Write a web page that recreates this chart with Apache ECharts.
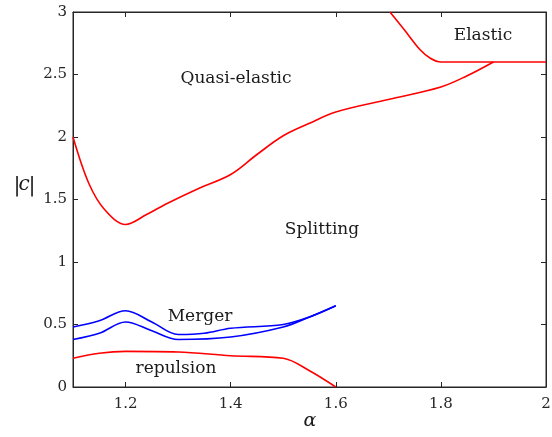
<!DOCTYPE html>
<html>
<head>
<meta charset="utf-8">
<script src="https://cdn.jsdelivr.net/npm/echarts@6/dist/echarts.min.js"></script>
<style>
  html, body { margin: 0; padding: 0; background: #fff; }
  #chart { width: 552px; height: 437px; }
</style>
</head>
<body>
<div id="chart"></div>
<script>
// boundary between quasi-elastic and splitting
const alphaQuasi = [1.1, 1.13, 1.16, 1.2, 1.24, 1.28, 1.34, 1.4, 1.45, 1.5, 1.55, 1.6, 1.7, 1.8, 1.85, 1.9];
const cQuasi     = [2.0, 1.63, 1.42, 1.30, 1.38, 1.47, 1.59, 1.70, 1.86, 2.01, 2.11, 2.20, 2.30, 2.40, 2.49, 2.60];
// elastic region boundary
const alphaElastic = [1.703, 1.73, 1.76, 1.78, 1.8, 1.9, 2.0];
const cElastic     = [3.0, 2.86, 2.70, 2.63, 2.6, 2.6, 2.6];
// merger band
const alphaMergerTop = [1.1, 1.15, 1.2, 1.25, 1.3, 1.35, 1.4, 1.5, 1.55, 1.6];
const cMergerTop     = [0.48, 0.53, 0.61, 0.52, 0.42, 0.43, 0.47, 0.50, 0.56, 0.65];
const alphaMergerBot = [1.1, 1.15, 1.2, 1.25, 1.3, 1.4, 1.5, 1.55, 1.6];
const cMergerBot     = [0.38, 0.43, 0.52, 0.45, 0.38, 0.40, 0.48, 0.56, 0.65];
// repulsion boundary
const alphaRepul = [1.1, 1.15, 1.2, 1.3, 1.4, 1.5, 1.55, 1.6];
const cRepul     = [0.23, 0.27, 0.285, 0.28, 0.25, 0.23, 0.13, 0.0];

const xTicks = [1.2, 1.4, 1.6, 1.8, 2];

const FONT = '"DejaVu Serif"';
const AX = '#262626';

function pts (xs, ys) {
  return xs.map((x, i) => [x, ys[i]]);
}

function line (name, xs, ys, color) {
  return {
    name: name,
    type: 'line',
    xAxisIndex: 0,
    yAxisIndex: 0,
    data: pts(xs, ys),
    smooth: 0.35,
    showSymbol: false,
    lineStyle: { color: color, width: 1.6 },
    silent: true
  };
}

function label (text, x, y, size, italic) {
  return {
    type: 'text', x: x, y: y, z: 10,
    style: {
      text: text,
      font: (italic ? 'italic ' : '') + size + 'px ' + FONT,
      fill: '#1a1a1a',
      align: 'center',
      verticalAlign: 'middle'
    }
  };
}

const chart = echarts.init(document.getElementById('chart'));

const tickStyle = { show: true, inside: true, length: 5, lineStyle: { color: AX } };
const lineStyle = { show: true, onZero: false, lineStyle: { color: AX, width: 1 } };

chart.setOption({
  animation: false,
  backgroundColor: '#fff',
  grid: { left: 73, right: 6, top: 12, bottom: 50, containLabel: false, outerBoundsMode: 'none',
    show: true, borderColor: AX, borderWidth: 1 },
  xAxis: [
    {
      type: 'value', min: 1.1, max: 2, position: 'bottom',
      splitLine: { show: false },
      axisLine: lineStyle,
      axisTick: Object.assign({ customValues: xTicks }, tickStyle),
      axisLabel: { customValues: xTicks, fontFamily: 'DejaVu Serif', fontSize: 15, color: AX, margin: 10,
        formatter: v => String(v) }
    },
    {
      type: 'value', min: 1.1, max: 2, position: 'top',
      splitLine: { show: false },
      axisLine: lineStyle,
      axisTick: Object.assign({ customValues: xTicks }, tickStyle),
      axisLabel: { show: false }
    }
  ],
  yAxis: [
    {
      type: 'value', min: 0, max: 3, interval: 0.5, position: 'left',
      splitLine: { show: false },
      axisLine: lineStyle,
      axisTick: tickStyle,
      axisLabel: { fontFamily: 'DejaVu Serif', fontSize: 15, color: AX, margin: 6 }
    },
    {
      type: 'value', min: 0, max: 3, interval: 0.5, position: 'right',
      splitLine: { show: false },
      axisLine: lineStyle,
      axisTick: tickStyle,
      axisLabel: { show: false }
    }
  ],
  series: [
    line('quasi', alphaQuasi, cQuasi, '#ff0000'),
    line('elastic', alphaElastic, cElastic, '#ff0000'),
    line('mergerTop', alphaMergerTop, cMergerTop, '#0000ff'),
    line('mergerBot', alphaMergerBot, cMergerBot, '#0000ff'),
    line('repulsion', alphaRepul, cRepul, '#ff0000')
  ],
  graphic: [
    label('Quasi-elastic', 236, 79, 17),
    label('Elastic', 483, 36, 17),
    label('Splitting', 322, 230, 17),
    label('Merger', 200, 317, 17),
    label('repulsion', 176, 369, 17),
    label('|', 17, 186, 21),
    label('c', 24, 185, 20, true),
    label('|', 32, 186, 21),
    label('α', 310, 421, 19, true)
  ]
});
</script>
</body>
</html>
